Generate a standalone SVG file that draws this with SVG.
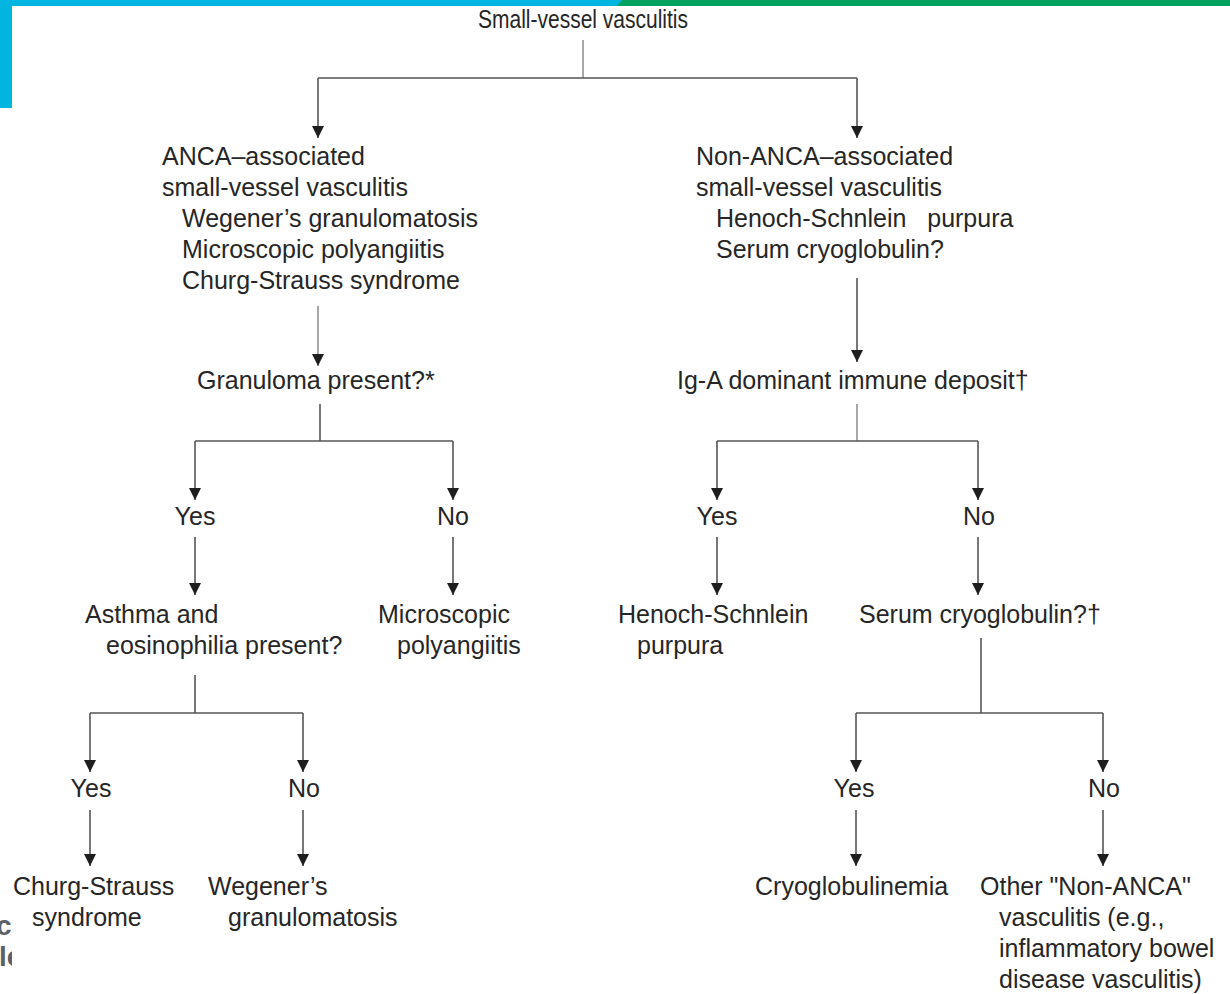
<svg xmlns="http://www.w3.org/2000/svg" width="1230" height="994" viewBox="0 0 1230 994">
<defs>
<style>
text{font-family:"Liberation Sans",Arial,sans-serif;font-size:25px;fill:#262626}
.m{text-anchor:middle}
.ln{stroke:#555;stroke-width:1.6;fill:none}
.lg{stroke:#a8a8a8;stroke-width:2;fill:none}
.ar{stroke:#555;stroke-width:1.6;fill:none;marker-end:url(#ah)}
.ag{stroke:#a8a8a8;stroke-width:2;fill:none;marker-end:url(#ah)}
.cut{font-weight:bold;font-size:28px;fill:#5b6069}
</style>
<marker id="ah" markerUnits="userSpaceOnUse" markerWidth="12" markerHeight="12" viewBox="0 0 12 12" refX="12" refY="6" orient="auto">
<path d="M0,0 L12,6 L0,12 z" fill="#1e1e1e"/>
</marker>
<clipPath id="edge"><rect x="0" y="890" width="12" height="100"/></clipPath>
</defs>
<rect width="1230" height="994" fill="#ffffff"/>
<g id="frame">
<rect x="0" y="0" width="622" height="6" fill="#00b5df"/>
<rect x="0" y="0" width="12" height="108" fill="#00b5df"/>
<polygon points="622,0 1230,0 1230,6 617,6" fill="#00a262"/>
<g clip-path="url(#edge)">
<text class="cut" x="-4" y="935">c</text>
<text class="cut" x="-1" y="966">le</text>
</g>
</g>
<g id="connectors">
<path class="lg" d="M583,40 V78"/>
<path class="ln" d="M318,78 H857"/>
<path class="ar" d="M318,78 V138"/>
<path class="ar" d="M857,78 V138"/>
<path class="ag" d="M318,306 V366"/>
<path class="ar" d="M857,278 V362"/>
<path class="ln" d="M320,404 V441 M195,441 H453"/>
<path class="ar" d="M195,441 V500"/>
<path class="ar" d="M453,441 V500"/>
<path class="ar" d="M195,537 V595"/>
<path class="ar" d="M453,537 V595"/>
<path class="lg" d="M857,404 V441"/>
<path class="ln" d="M717,441 H978"/>
<path class="ar" d="M717,441 V500"/>
<path class="ar" d="M978,441 V500"/>
<path class="ar" d="M717,537 V595"/>
<path class="ar" d="M978,537 V595"/>
<path class="ln" d="M195,675 V713 M90,713 H303"/>
<path class="ar" d="M90,713 V772"/>
<path class="ar" d="M303,713 V772"/>
<path class="ar" d="M90,810 V866"/>
<path class="ar" d="M303,810 V866"/>
<path class="ln" d="M981,638 V713 M856,713 H1103"/>
<path class="ar" d="M856,713 V772"/>
<path class="ar" d="M1103,713 V772"/>
<path class="ar" d="M856,810 V866"/>
<path class="ar" d="M1103,810 V866"/>
</g>
<g id="n-root"><text x="478" y="28" font-size="26" textLength="210" lengthAdjust="spacingAndGlyphs">Small-vessel vasculitis</text></g>
<g id="n-anca">
<text x="162" y="165">ANCA–associated</text>
<text x="162" y="196">small-vessel vasculitis</text>
<text x="182" y="227">Wegener’s granulomatosis</text>
<text x="182" y="258">Microscopic polyangiitis</text>
<text x="182" y="289">Churg-Strauss syndrome</text>
</g>
<g id="n-nonanca">
<text x="696" y="165">Non-ANCA–associated</text>
<text x="696" y="196">small-vessel vasculitis</text>
<text x="716" y="227" style="white-space:pre">Henoch-Schnlein   purpura</text>
<text x="716" y="258">Serum cryoglobulin?</text>
</g>
<g id="n-granuloma"><text x="197" y="389">Granuloma present?*</text></g>
<g id="n-iga"><text x="677" y="389">Ig-A dominant immune deposit†</text></g>
<g id="n-yes1"><text class="m" x="195" y="525">Yes</text></g>
<g id="n-no1"><text class="m" x="453" y="525">No</text></g>
<g id="n-yes2"><text class="m" x="717" y="525">Yes</text></g>
<g id="n-no2"><text class="m" x="979" y="525">No</text></g>
<g id="n-asthma">
<text x="85" y="623">Asthma and</text>
<text x="106" y="654">eosinophilia present?</text>
</g>
<g id="n-mpa">
<text x="378" y="623">Microscopic</text>
<text x="397" y="654">polyangiitis</text>
</g>
<g id="n-hsp">
<text x="618" y="623">Henoch-Schnlein</text>
<text x="637" y="654">purpura</text>
</g>
<g id="n-serum"><text x="859" y="623">Serum cryoglobulin?†</text></g>
<g id="n-yes3"><text class="m" x="91" y="797">Yes</text></g>
<g id="n-no3"><text class="m" x="304" y="797">No</text></g>
<g id="n-yes4"><text class="m" x="854" y="797">Yes</text></g>
<g id="n-no4"><text class="m" x="1104" y="797">No</text></g>
<g id="n-css">
<text x="13" y="895">Churg-Strauss</text>
<text x="32" y="926">syndrome</text>
</g>
<g id="n-wg">
<text x="208" y="895">Wegener’s</text>
<text x="228" y="926">granulomatosis</text>
</g>
<g id="n-cryo"><text x="755" y="895">Cryoglobulinemia</text></g>
<g id="n-other">
<text x="980" y="895">Other "Non-ANCA"</text>
<text x="999" y="926">vasculitis (e.g.,</text>
<text x="999" y="957">inflammatory bowel</text>
<text x="999" y="988">disease vasculitis)</text>
</g>
</svg>
